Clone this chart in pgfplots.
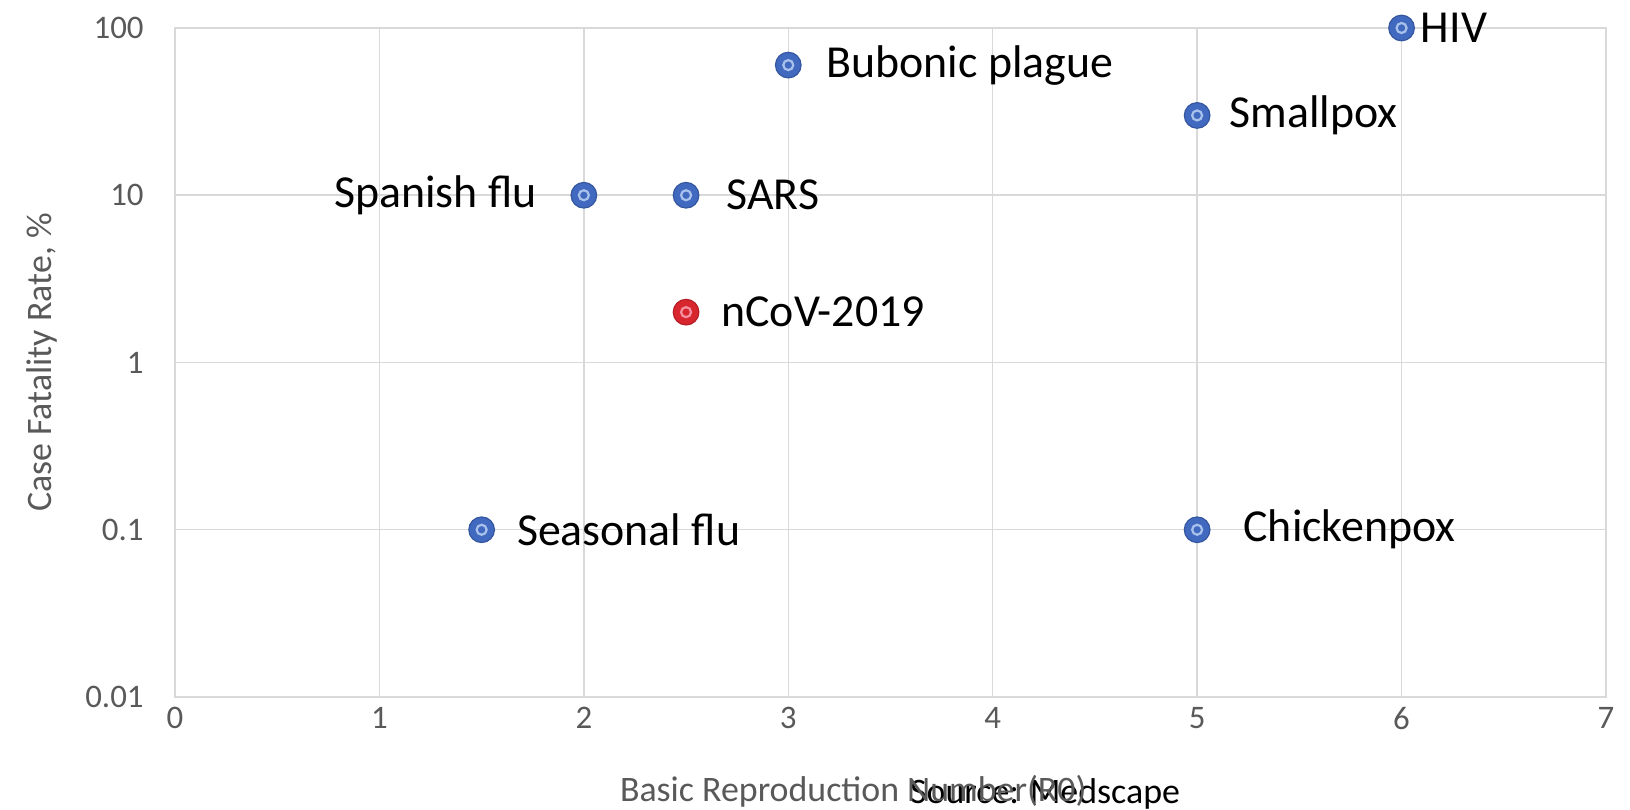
\documentclass[border=0pt]{standalone}
\usepackage{pgfplots}
\pgfplotsset{compat=1.18}
\usepackage{fontspec}
\setmainfont{Carlito}
\definecolor{gridc}{HTML}{D9D9D9}
\definecolor{tickc}{HTML}{595959}
\definecolor{mblue}{HTML}{4169BF}
\definecolor{mblueedge}{HTML}{34579F}
\definecolor{mring}{HTML}{A9C2EC}
\definecolor{mred}{HTML}{D7262E}
\definecolor{mrededge}{HTML}{B81E25}
\definecolor{mredring}{HTML}{F490A0}
\newcommand{\lbl}{\fontsize{23}{26}\selectfont}
\begin{document}
\begin{tikzpicture}
\useasboundingbox (-87.5bp,-56.5bp) rectangle (727.5bp,348.5bp);
\begin{axis}[
  at={(0,0)}, anchor=south west, scale only axis,
  width=715.5bp, height=334.5bp,
  xmin=0, xmax=7, ymode=log, ymin=0.01, ymax=100,
  xtick={0,1,2,3,4,5,6,7}, xticklabels={0,1,2,3,4,5,6,7},
  ytick={0.01,0.1,1,10,100}, yticklabels={0.01,0.1,1,10,100},
  yminorticks=false,
  major tick length=0pt,
  grid=major,
  major grid style={gridc, line width=0.75bp},
  axis line style={gridc, line width=0.75bp},
  /pgf/number format/assume math mode=true,
  tick label style={font=\fontsize{16.5}{18}\selectfont, text=tickc},
  xticklabel style={inner sep=0pt, anchor=north, yshift=-5bp},
  yticklabel style={inner sep=0pt, anchor=east, xshift=-15.5bp},
  xlabel={Basic Reproduction Number(R0)},
  ylabel={Case Fatality Rate, \%},
  label style={font=\fontsize{18}{20}\selectfont, text=tickc},
  xlabel style={at={(axis description cs:0.474,-0.141)}, anchor=center, inner sep=0pt},
  ylabel style={at={(axis description cs:-0.093,0.5)}, anchor=center, inner sep=0pt},
  clip=false,
]
\addplot[only marks, mark=*, mark size=6.4bp, mark options={fill=mblue, draw=mblueedge, line width=0.6bp}]
  coordinates {(1.5,0.1) (2,10) (2.5,10) (3,60) (5,30) (6,100) (5,0.1)};
\addplot[only marks, mark=o, mark size=2.5bp, mark options={draw=mring, line width=1.1bp}]
  coordinates {(1.5,0.1) (2,10) (2.5,10) (3,60) (5,30) (6,100) (5,0.1)};
\addplot[only marks, mark=*, mark size=6.4bp, mark options={fill=mred, draw=mrededge, line width=0.6bp}]
  coordinates {(2.5,2)};
\addplot[only marks, mark=o, mark size=2.5bp, mark options={draw=mredring, line width=1.1bp}]
  coordinates {(2.5,2)};
\node[anchor=west, inner sep=0pt, xshift=17.5bp, font=\lbl] at (axis cs:1.5,0.1) {Seasonal flu};
\node[anchor=east, inner sep=0pt, xshift=-23.5bp, font=\lbl] at (axis cs:2,10) {Spanish flu};
\node[anchor=west, inner sep=0pt, xshift=20bp, font=\lbl] at (axis cs:2.5,10) {SARS};
\node[anchor=west, inner sep=0pt, xshift=17.5bp, font=\lbl] at (axis cs:2.5,2) {nCoV-2019};
\node[anchor=west, inner sep=0pt, xshift=19bp, font=\lbl] at (axis cs:3,60) {Bubonic plague};
\node[anchor=west, inner sep=0pt, xshift=16bp, font=\lbl] at (axis cs:5,30) {Smallpox};
\node[anchor=west, inner sep=0pt, xshift=9.5bp, font=\lbl] at (axis cs:6,100) {HIV};
\node[anchor=west, inner sep=0pt, xshift=23bp, font=\lbl] at (axis cs:5,0.1) {Chickenpox};
\node[anchor=center, inner sep=0pt, font=\fontsize{18}{20}\selectfont] at (axis description cs:0.608,-0.145) {Source: Medscape};
\end{axis}
\end{tikzpicture}
\end{document}
